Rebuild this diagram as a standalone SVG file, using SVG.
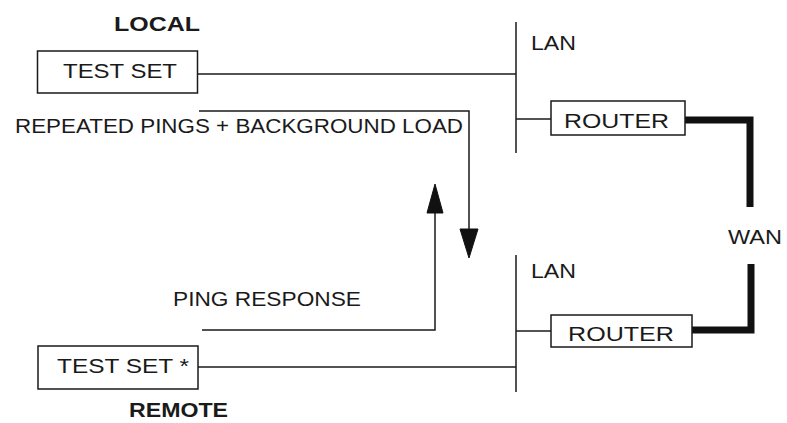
<svg xmlns="http://www.w3.org/2000/svg" width="787" height="423" viewBox="0 0 787 423">
<style>
.bg{fill:#ffffff}
.box{fill:#ffffff;stroke:#1a1a1a;stroke-width:1.5}
.ln{fill:none;stroke:#1a1a1a;stroke-width:1.5}
.wan{fill:none;stroke:#111111;stroke-width:7;stroke-linejoin:miter}
.t{font-family:"Liberation Sans",Arial,Helvetica,sans-serif;fill:#1a1a1a;font-size:20px}
.b{font-weight:bold}
.ah{fill:#111111;stroke:#111111;stroke-width:1}
</style>
<rect class="bg" x="0" y="0" width="787" height="423"/>
<g id="connectors">
  <line class="ln" x1="197" y1="74" x2="516" y2="74"/>
  <line class="ln" x1="516" y1="22" x2="516" y2="153"/>
  <line class="ln" x1="516" y1="119" x2="551" y2="119"/>
  <path class="wan" d="M685,120 H750 V207"/>
  <path class="wan" d="M692,330 H751 V264"/>
  <line class="ln" x1="516" y1="255" x2="516" y2="392"/>
  <line class="ln" x1="516" y1="331" x2="551" y2="331"/>
  <line class="ln" x1="198" y1="367" x2="516" y2="367"/>
  <polyline class="ln" points="199,111 469,111 469,230"/>
  <polygon class="ah" points="460,229 478,229 469,258"/>
  <polyline class="ln" points="202,330 435,330 435,212"/>
  <polygon class="ah" points="427,213 443,213 435,184"/>
</g>
<g id="local-label"><text class="t b" x="114" y="31" textLength="86" lengthAdjust="spacingAndGlyphs">LOCAL</text></g>
<g id="local-testset">
  <rect class="box" x="37.5" y="51" width="160" height="42"/>
  <text class="t" x="63" y="78" textLength="114" lengthAdjust="spacingAndGlyphs">TEST SET</text>
</g>
<g id="lan-top"><text class="t" x="531" y="50" font-size="22" textLength="45" lengthAdjust="spacingAndGlyphs">LAN</text></g>
<g id="router-top">
  <rect class="box" x="551" y="101" width="134" height="34"/>
  <text class="t" x="564" y="128" textLength="105" lengthAdjust="spacingAndGlyphs">ROUTER</text>
</g>
<g id="wan-label"><text class="t" x="728" y="244" font-size="22" textLength="54" lengthAdjust="spacingAndGlyphs">WAN</text></g>
<g id="lan-bottom"><text class="t" x="531" y="278" font-size="22" textLength="45" lengthAdjust="spacingAndGlyphs">LAN</text></g>
<g id="router-bottom">
  <rect class="box" x="551" y="315" width="141" height="32"/>
  <text class="t" x="568" y="341" textLength="106" lengthAdjust="spacingAndGlyphs">ROUTER</text>
</g>
<g id="remote-testset">
  <rect class="box" x="38" y="346" width="160" height="43"/>
  <text class="t" x="57" y="373" textLength="132" lengthAdjust="spacingAndGlyphs">TEST SET *</text>
</g>
<g id="remote-label"><text class="t b" x="129" y="417" textLength="99" lengthAdjust="spacingAndGlyphs">REMOTE</text></g>
<g id="ping-label"><text class="t" x="15" y="133" font-size="19" textLength="448" lengthAdjust="spacingAndGlyphs">REPEATED PINGS + BACKGROUND LOAD</text></g>
<g id="response-label"><text class="t" x="173" y="306" font-size="19" textLength="188" lengthAdjust="spacingAndGlyphs">PING RESPONSE</text></g>
</svg>
